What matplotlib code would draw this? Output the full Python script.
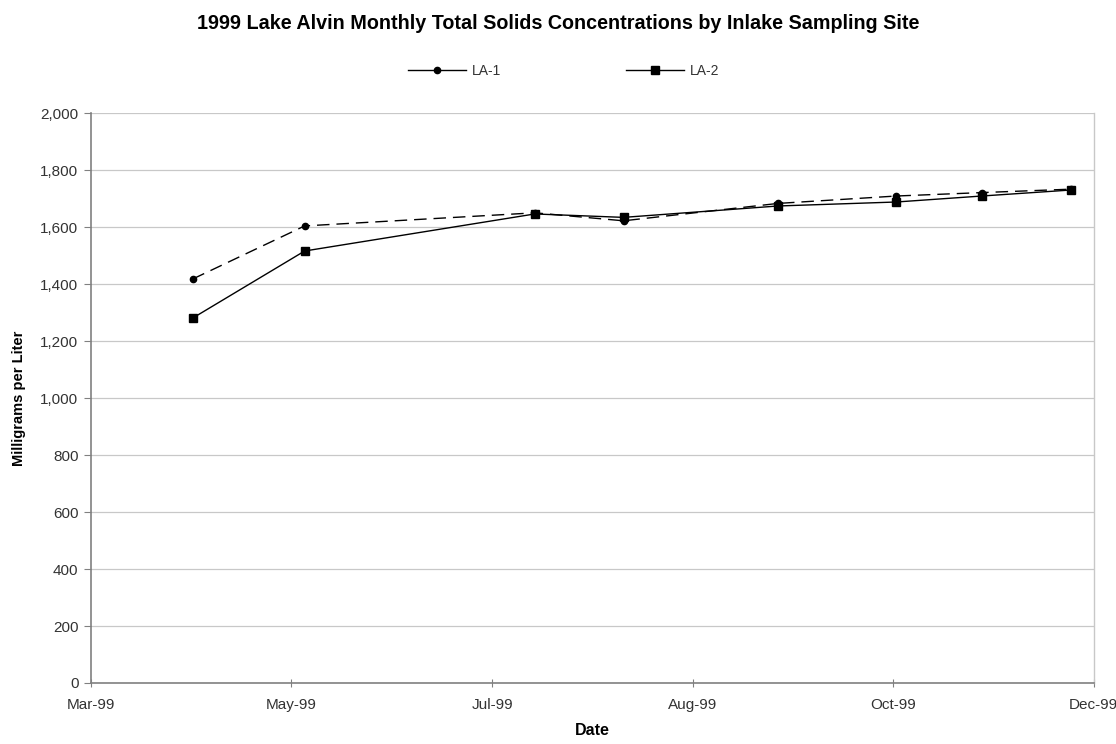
import matplotlib
matplotlib.use("Agg")
import matplotlib.pyplot as plt
import matplotlib.dates as mdates
from matplotlib.lines import Line2D
from matplotlib.ticker import FuncFormatter
import numpy as np
import datetime as dt

plt.rcParams['font.family'] = ['Liberation Sans', 'DejaVu Sans']

dates = ["1999-04-01", "1999-05-05", "1999-07-14", "1999-08-10", "1999-09-26",
         "1999-11-01", "1999-11-27", "1999-12-24"]
la1 = [1418, 1604, 1650, 1622, 1683, 1709, 1721, 1733]
la2 = [1281, 1516, 1646, 1634, 1674, 1688, 1709, 1730]
tick_dates = ["1999-03-01", "1999-05-01", "1999-07-01", "1999-08-31", "1999-10-31", "1999-12-31"]
y_ticks = [0, 200, 400, 600, 800, 1000, 1200, 1400, 1600, 1800, 2000]

x = [dt.datetime.strptime(d, "%Y-%m-%d") for d in dates]
xt = [dt.datetime.strptime(d, "%Y-%m-%d") for d in tick_dates]

fig = plt.figure(figsize=(11.16, 7.44), dpi=100)
ax = fig.add_axes([0.0815, 0.082, 0.8985, 0.766])

ax.plot(x, la1, color='black', lw=1.0, ls=(0, (9, 5)), marker='o', ms=4.5, zorder=3)
ax.plot(x, la2, color='black', lw=1.0, ls='-', marker='s', ms=5.5, zorder=3)

ax.set_xlim(xt[0], xt[-1])
ax.set_ylim(0, 2000)
ax.set_xticks(xt)
ax.xaxis.set_major_formatter(mdates.DateFormatter('%b-%y'))
ax.set_yticks(y_ticks)
ax.yaxis.set_major_formatter(FuncFormatter(lambda v, p: f"{int(v):,}"))

ax.grid(axis='y', color='#c8c8c8', lw=0.9)
ax.set_axisbelow(True)
for s in ['left', 'bottom']:
    ax.spines[s].set_color('#808080')
    ax.spines[s].set_linewidth(1.2)
ax.spines['top'].set_visible(False)
ax.spines['right'].set_color('#c8c8c8')
ax.spines['right'].set_linewidth(1.0)

ax.tick_params(axis='y', direction='out', length=5, color='#808080', labelsize=11, labelcolor='#333333', pad=4)
ax.tick_params(axis='x', direction='inout', length=6, color='#808080', labelsize=11, labelcolor='#333333', pad=8)

ax.set_xlabel('Date', fontsize=11.5, fontweight='bold', labelpad=8)
ax.set_ylabel('Milligrams per Liter', fontsize=10.5, fontweight='bold', labelpad=10)

fig.suptitle('1999 Lake Alvin Monthly Total Solids Concentrations by Inlake Sampling Site',
             fontsize=14.2, fontweight='bold', y=0.981, x=0.5)

handles = [Line2D([], [], color='black', lw=1.0, marker='o', ms=4.5),
           Line2D([], [], color='black', lw=1.0, marker='s', ms=5.5)]
fig.legend(handles, ['LA-1', 'LA-2'], loc='center', bbox_to_anchor=(0.505, 0.905), ncol=2,
           frameon=False, fontsize=10, handlelength=4.2, columnspacing=9, handletextpad=0.4,
           labelcolor='#333333')

fig.savefig('out.png', dpi=100)
